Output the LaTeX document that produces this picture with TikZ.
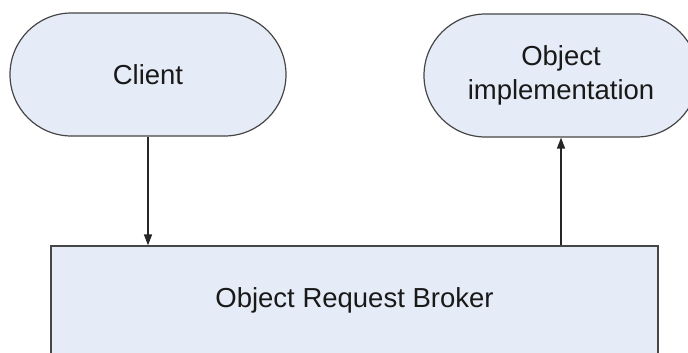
\documentclass[tikz,border=0pt]{standalone}
\usepackage{fontspec}
\setmainfont{Liberation Sans}
\usetikzlibrary{arrows.meta,shapes.misc}
\definecolor{boxfill}{RGB}{230,236,247}
\definecolor{boxline}{RGB}{70,70,70}
\begin{document}
\begin{tikzpicture}[x=1pt,y=-1pt,
  txt/.style={font=\fontsize{27.5}{34}\selectfont, text=black!90, align=center},
  stadium/.style={txt, draw=boxline, fill=boxfill, line width=1.2pt,
    rounded rectangle, rounded rectangle arc length=180, inner sep=0pt},
  brokerbox/.style={txt, draw=boxline, fill=boxfill, line width=1.2pt,
    rectangle, inner sep=0pt},
  arr/.style={draw=black!85, line width=1.5pt, -{Triangle[length=11pt,width=8pt]}}]
\useasboundingbox (0,0) rectangle (688,353);
\clip (0,0) rectangle (688,353);
\fill[white] (0,0) rectangle (688,353);
\node[stadium, minimum width=276pt, minimum height=123pt] (client) at (148,74.5) {Client};
\node[stadium, minimum width=274pt, minimum height=123pt] (impl) at (561,75.5) {Object\\implementation};
\node[brokerbox, minimum width=607pt, minimum height=112pt] (orb) at (354.5,302) {};
\node[txt] (orbtext) at (354.5,300) {Object Request Broker};
\draw[arr] (client.south) -- (orb.north -| client.south);
\draw[arr] (orb.north -| impl.south) -- (impl.south);
\end{tikzpicture}
\end{document}
